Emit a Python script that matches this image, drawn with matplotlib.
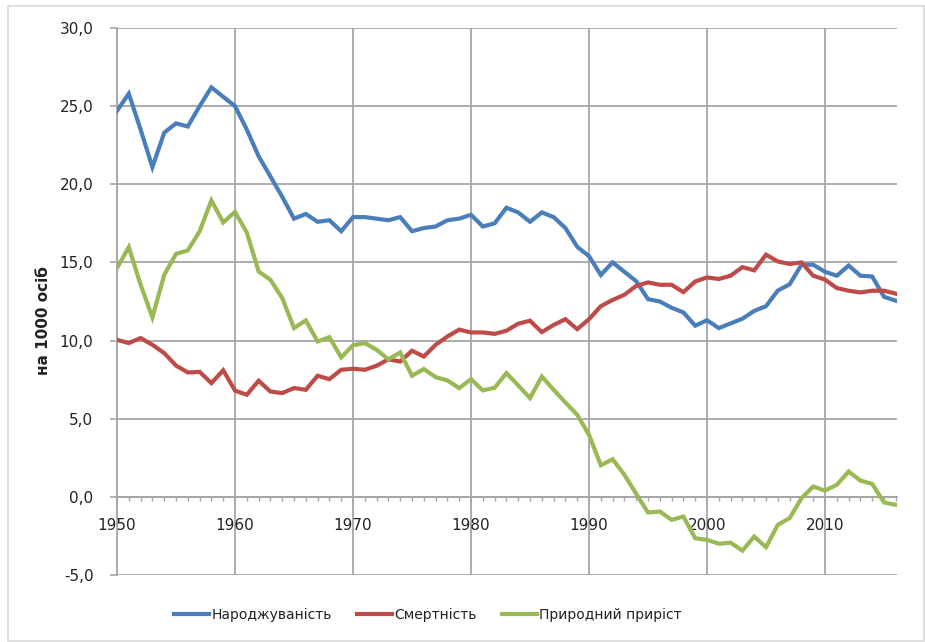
import matplotlib
matplotlib.use("Agg")
import matplotlib.pyplot as plt
from matplotlib.patches import Rectangle
from matplotlib.ticker import MultipleLocator, FuncFormatter

years = list(range(1950, 2017))

birth = [24.7, 25.8, 23.5, 21.1, 23.3, 23.9, 23.7, 25.0, 26.2, 25.6,
         25.0, 23.5, 21.8, 20.5, 19.2, 17.8, 18.1, 17.6, 17.7, 17.0,
         17.9, 17.9, 17.8, 17.7, 17.9, 17.0, 17.2, 17.3, 17.7, 17.8,
         18.05, 17.3, 17.5, 18.5, 18.2, 17.6, 18.2, 17.9, 17.2, 16.0,
         15.4, 14.2, 15.0, 14.4, 13.8, 12.65, 12.5, 12.1, 11.8, 10.95,
         11.3, 10.8, 11.1, 11.4, 11.9, 12.2, 13.2, 13.6, 14.85, 14.85,
         14.4, 14.15, 14.8, 14.15, 14.1, 12.8, 12.55]

death = [10.05, 9.84, 10.16, 9.73, 9.2, 8.4, 7.96, 8.0, 7.28, 8.1,
         6.8, 6.53, 7.43, 6.74, 6.64, 6.96, 6.85, 7.75, 7.53, 8.13,
         8.2, 8.13, 8.39, 8.8, 8.66, 9.35, 8.98, 9.73, 10.26, 10.7,
         10.52, 10.52, 10.43, 10.63, 11.08, 11.27, 10.54, 11.0, 11.37, 10.73,
         11.37, 12.2, 12.6, 12.93, 13.5, 13.72, 13.57, 13.57, 13.1, 13.78,
         14.04, 13.94, 14.15, 14.7, 14.49, 15.5, 15.06, 14.9, 15.0, 14.15,
         13.9, 13.36, 13.19, 13.08, 13.19, 13.19, 13.0]

growth = [14.64, 15.98, 13.57, 11.48, 14.2, 15.55, 15.77, 16.99, 18.97, 17.56,
          18.23, 16.92, 14.42, 13.89, 12.72, 10.8, 11.29, 9.94, 10.22, 8.92,
          9.7, 9.84, 9.41, 8.8, 9.24, 7.75, 8.18, 7.66, 7.45, 6.96,
          7.53, 6.81, 6.98, 7.92, 7.13, 6.32, 7.7, 6.85, 6.04, 5.25,
          3.97, 2.02, 2.41, 1.41, 0.19, -1.0, -0.94, -1.47, -1.26, -2.65,
          -2.75, -3.0, -2.93, -3.44, -2.54, -3.22, -1.79, -1.36, -0.09, 0.66,
          0.4, 0.77, 1.62, 1.04, 0.83, -0.36, -0.51]

series_names = ["Народжуваність", "Смертність", "Природний приріст"]
series_colors = ["#4A7EBB", "#BE4B48", "#98B954"]
y_label = "на 1000 осіб"

W, H = 925, 642
fig = plt.figure(figsize=(W / 100, H / 100), dpi=100)
plt.rcParams['font.family'] = ['DejaVu Sans']

# outer chart-area border
fig.patches.append(Rectangle((8 / W, 1 / H), (W - 9) / W, (H - 7) / H,
                             transform=fig.transFigure, fill=False,
                             edgecolor="#D9D9D9", linewidth=1.2))

ax = fig.add_axes([117 / W, 1 - 575 / H, (897 - 117) / W, (575 - 28) / H])

lines = []
for vals, name, col in zip([birth, death, growth], series_names, series_colors):
    ln, = ax.plot(years, vals, color=col, lw=3.0, label=name,
                  solid_joinstyle="miter", zorder=3)
    lines.append(ln)

ax.set_xlim(1950, 2016.1)
ax.set_ylim(-5, 30)

grid_col = "#A6A6A6"
ax.xaxis.set_major_locator(MultipleLocator(10))
ax.xaxis.set_minor_locator(MultipleLocator(1))
ax.yaxis.set_major_locator(MultipleLocator(5))
ax.yaxis.set_major_formatter(FuncFormatter(lambda v, p: f"{v:.1f}".replace(".", ",")))
ax.xaxis.set_major_formatter(FuncFormatter(lambda v, p: f"{int(v)}"))

ax.grid(True, which="major", color=grid_col, lw=1.3, zorder=1)
ax.set_axisbelow(True)

for s in ["top", "right"]:
    ax.spines[s].set_visible(False)
ax.spines["bottom"].set_position(("data", 0))
ax.spines["bottom"].set_color(grid_col)
ax.spines["bottom"].set_linewidth(1.3)
ax.spines["left"].set_color(grid_col)
ax.spines["left"].set_linewidth(1.3)

ax.tick_params(axis="x", which="major", length=5, width=1.2, color=grid_col,
               direction="out", pad=10, labelsize=11, labelcolor="#222222")
ax.tick_params(axis="x", which="minor", length=3, width=1.0, color=grid_col,
               direction="out")
ax.tick_params(axis="y", which="major", length=5, width=1.2, color=grid_col,
               direction="out", pad=12, labelsize=11, labelcolor="#222222")

fig.text(43 / W, 1 - 321 / H, y_label, rotation=90, ha="center", va="center",
         fontsize=11, fontweight="bold", color="#222222")

fig.legend(handles=lines, loc="center", bbox_to_anchor=(428 / W, 1 - 615 / H),
           ncol=3, frameon=False, fontsize=10, handlelength=2.5,
           handletextpad=0.2, columnspacing=1.8, labelcolor="#222222")

fig.savefig("out.png", dpi=100)
